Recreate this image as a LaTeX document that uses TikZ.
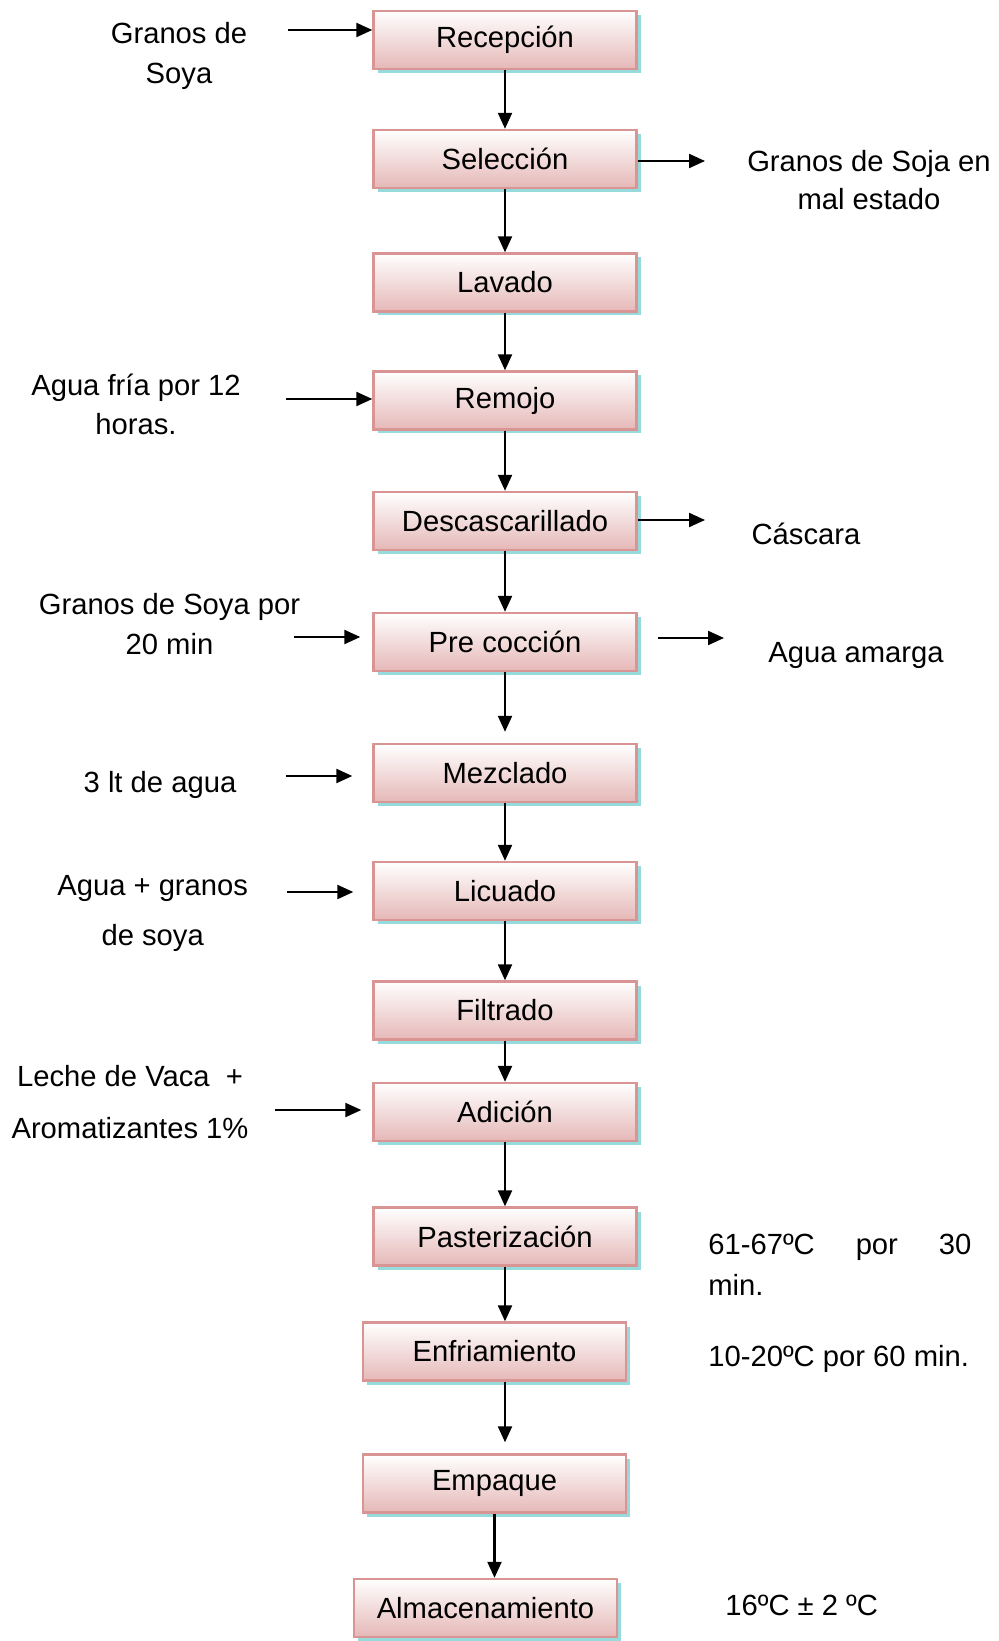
\documentclass[tikz,border=0pt]{standalone}
\usepackage{fontspec}
\setmainfont{Liberation Sans}
\usetikzlibrary{arrows.meta, positioning, shadows}

\definecolor{boxline}{RGB}{217,149,148}
\definecolor{boxfill}{RGB}{229,184,183}
\definecolor{boxshade}{RGB}{150,218,220}

\begin{document}
\begin{tikzpicture}[
    x=0.5pt, y=-0.5pt,
    procbox/.style={rectangle, draw=boxline, line width=1.2pt, top color=white, bottom color=boxfill, minimum width=131.5pt, minimum height=29pt, text centered, font=\fontsize{14.6}{18}\selectfont, drop shadow={shadow xshift=2pt, shadow yshift=-2pt, fill=boxshade, opacity=1}},
    sidetext/.style={align=center, font=\fontsize{14.6}{20}\selectfont, inner sep=0pt},
    arrow/.style={-{Triangle[length=8pt, width=7pt]}, line width=1.1pt},
]
\useasboundingbox (0,0) rectangle (999,1641);

% process steps
\node[procbox] (rec) at (505,40) {Recepción};
\node[procbox] (sel) at (505,159) {Selección};
\node[procbox] (lav) at (505,282.5) {Lavado};
\node[procbox] (rem) at (505,400.5) {Remojo};
\node[procbox] (des) at (505,521) {Descascarillado};
\node[procbox] (pre) at (505,642) {Pre cocción};
\node[procbox] (mez) at (505,773) {Mezclado};
\node[procbox] (lic) at (505,891) {Licuado};
\node[procbox] (fil) at (505,1010.5) {Filtrado};
\node[procbox] (adi) at (505,1112) {Adición};
\node[procbox] (pas) at (505,1236.5) {Pasterización};
\node[procbox] (enf) at (494.5,1351.5) {Enfriamiento};
\node[procbox] (emp) at (494.5,1483.5) {Empaque};
\node[procbox] (alm) at (485.5,1608) {Almacenamiento};

% inputs, outputs and conditions
\node[sidetext] (granos) at (179,56) {Granos de\\Soya};
\node[sidetext, font=\fontsize{14.6}{19}\selectfont] (malestado) at (869,180) {Granos de Soja en\\mal estado};
\node[sidetext, font=\fontsize{14.6}{19.4}\selectfont] (aguafria) at (136,404) {Agua fría por 12\\horas.};
\node[sidetext] (cascara) at (806,534) {Cáscara};
\node[sidetext] (granospor) at (169.5,624.5) {Granos de Soya por\\20 min};
\node[sidetext] (amarga) at (856,655) {Agua amarga};
\node[sidetext] (tresl) at (160,785) {3 lt de agua};
\node[sidetext, font=\fontsize{14.6}{25}\selectfont] (aguagranos) at (152.7,913) {Agua + granos\\de soya};
\node[sidetext, font=\fontsize{14.6}{25.6}\selectfont] (leche) at (130,1102) {Leche de Vaca \ +\\Aromatizantes 1\%};
\node[sidetext, anchor=west, text width=131.5pt, align=left, font=\fontsize{14.6}{20.3}\selectfont] (pastemp) at (708,1265) {61-67ºC\hfill por\hfill 30\\min.};
\node[sidetext, anchor=west] (enftemp) at (708,1359) {10-20ºC por 60 min.};
\node[sidetext, anchor=west] (almtemp) at (725,1605) {16ºC ± 2 ºC};

\coordinate (in1) at (288,30);
\coordinate (out2) at (705,161);
\coordinate (in4) at (286,399);
\coordinate (out5) at (705,520);
\coordinate (in6) at (294,637);
\coordinate (out6) at (724,638);
\coordinate (in7) at (286,776);
\coordinate (in8) at (287,892);
\coordinate (in10) at (275,1110);

% main line
\draw[arrow] (rec) -- (sel);
\draw[arrow] (sel) -- (lav);
\draw[arrow] (lav) -- (rem);
\draw[arrow] (rem) -- (des);
\draw[arrow] (des) -- (pre);
\draw[arrow, shorten >=5.5pt] (pre) -- (mez);
\draw[arrow] (mez) -- (lic);
\draw[arrow] (lic) -- (fil);
\draw[arrow] (fil) -- (adi);
\draw[arrow] (adi) -- (pas);
\draw[arrow] (pas.south) -- (pas.south |- enf.north);
\draw[arrow, shorten >=5.5pt] (enf.south -| pas.south) -- (emp.north -| pas.south);
\draw[arrow] (emp.south) -- (emp.south |- alm.north);

% side arrows
\draw[arrow] (in1) -- (in1 -| rec.west);
\draw[arrow] (sel.east |- out2) -- (out2);
\draw[arrow] (in4) -- (in4 -| rem.west);
\draw[arrow] (des.east |- out5) -- (out5);
\draw[arrow, shorten >=6pt] (in6) -- (in6 -| pre.west);
\draw[arrow, shorten <=10pt] (pre.east |- out6) -- (out6);
\draw[arrow, shorten >=10pt] (in7) -- (in7 -| mez.west);
\draw[arrow, shorten >=9.5pt] (in8) -- (in8 -| lic.west);
\draw[arrow, shorten >=5.5pt] (in10) -- (in10 -| adi.west);
\end{tikzpicture}
\end{document}
